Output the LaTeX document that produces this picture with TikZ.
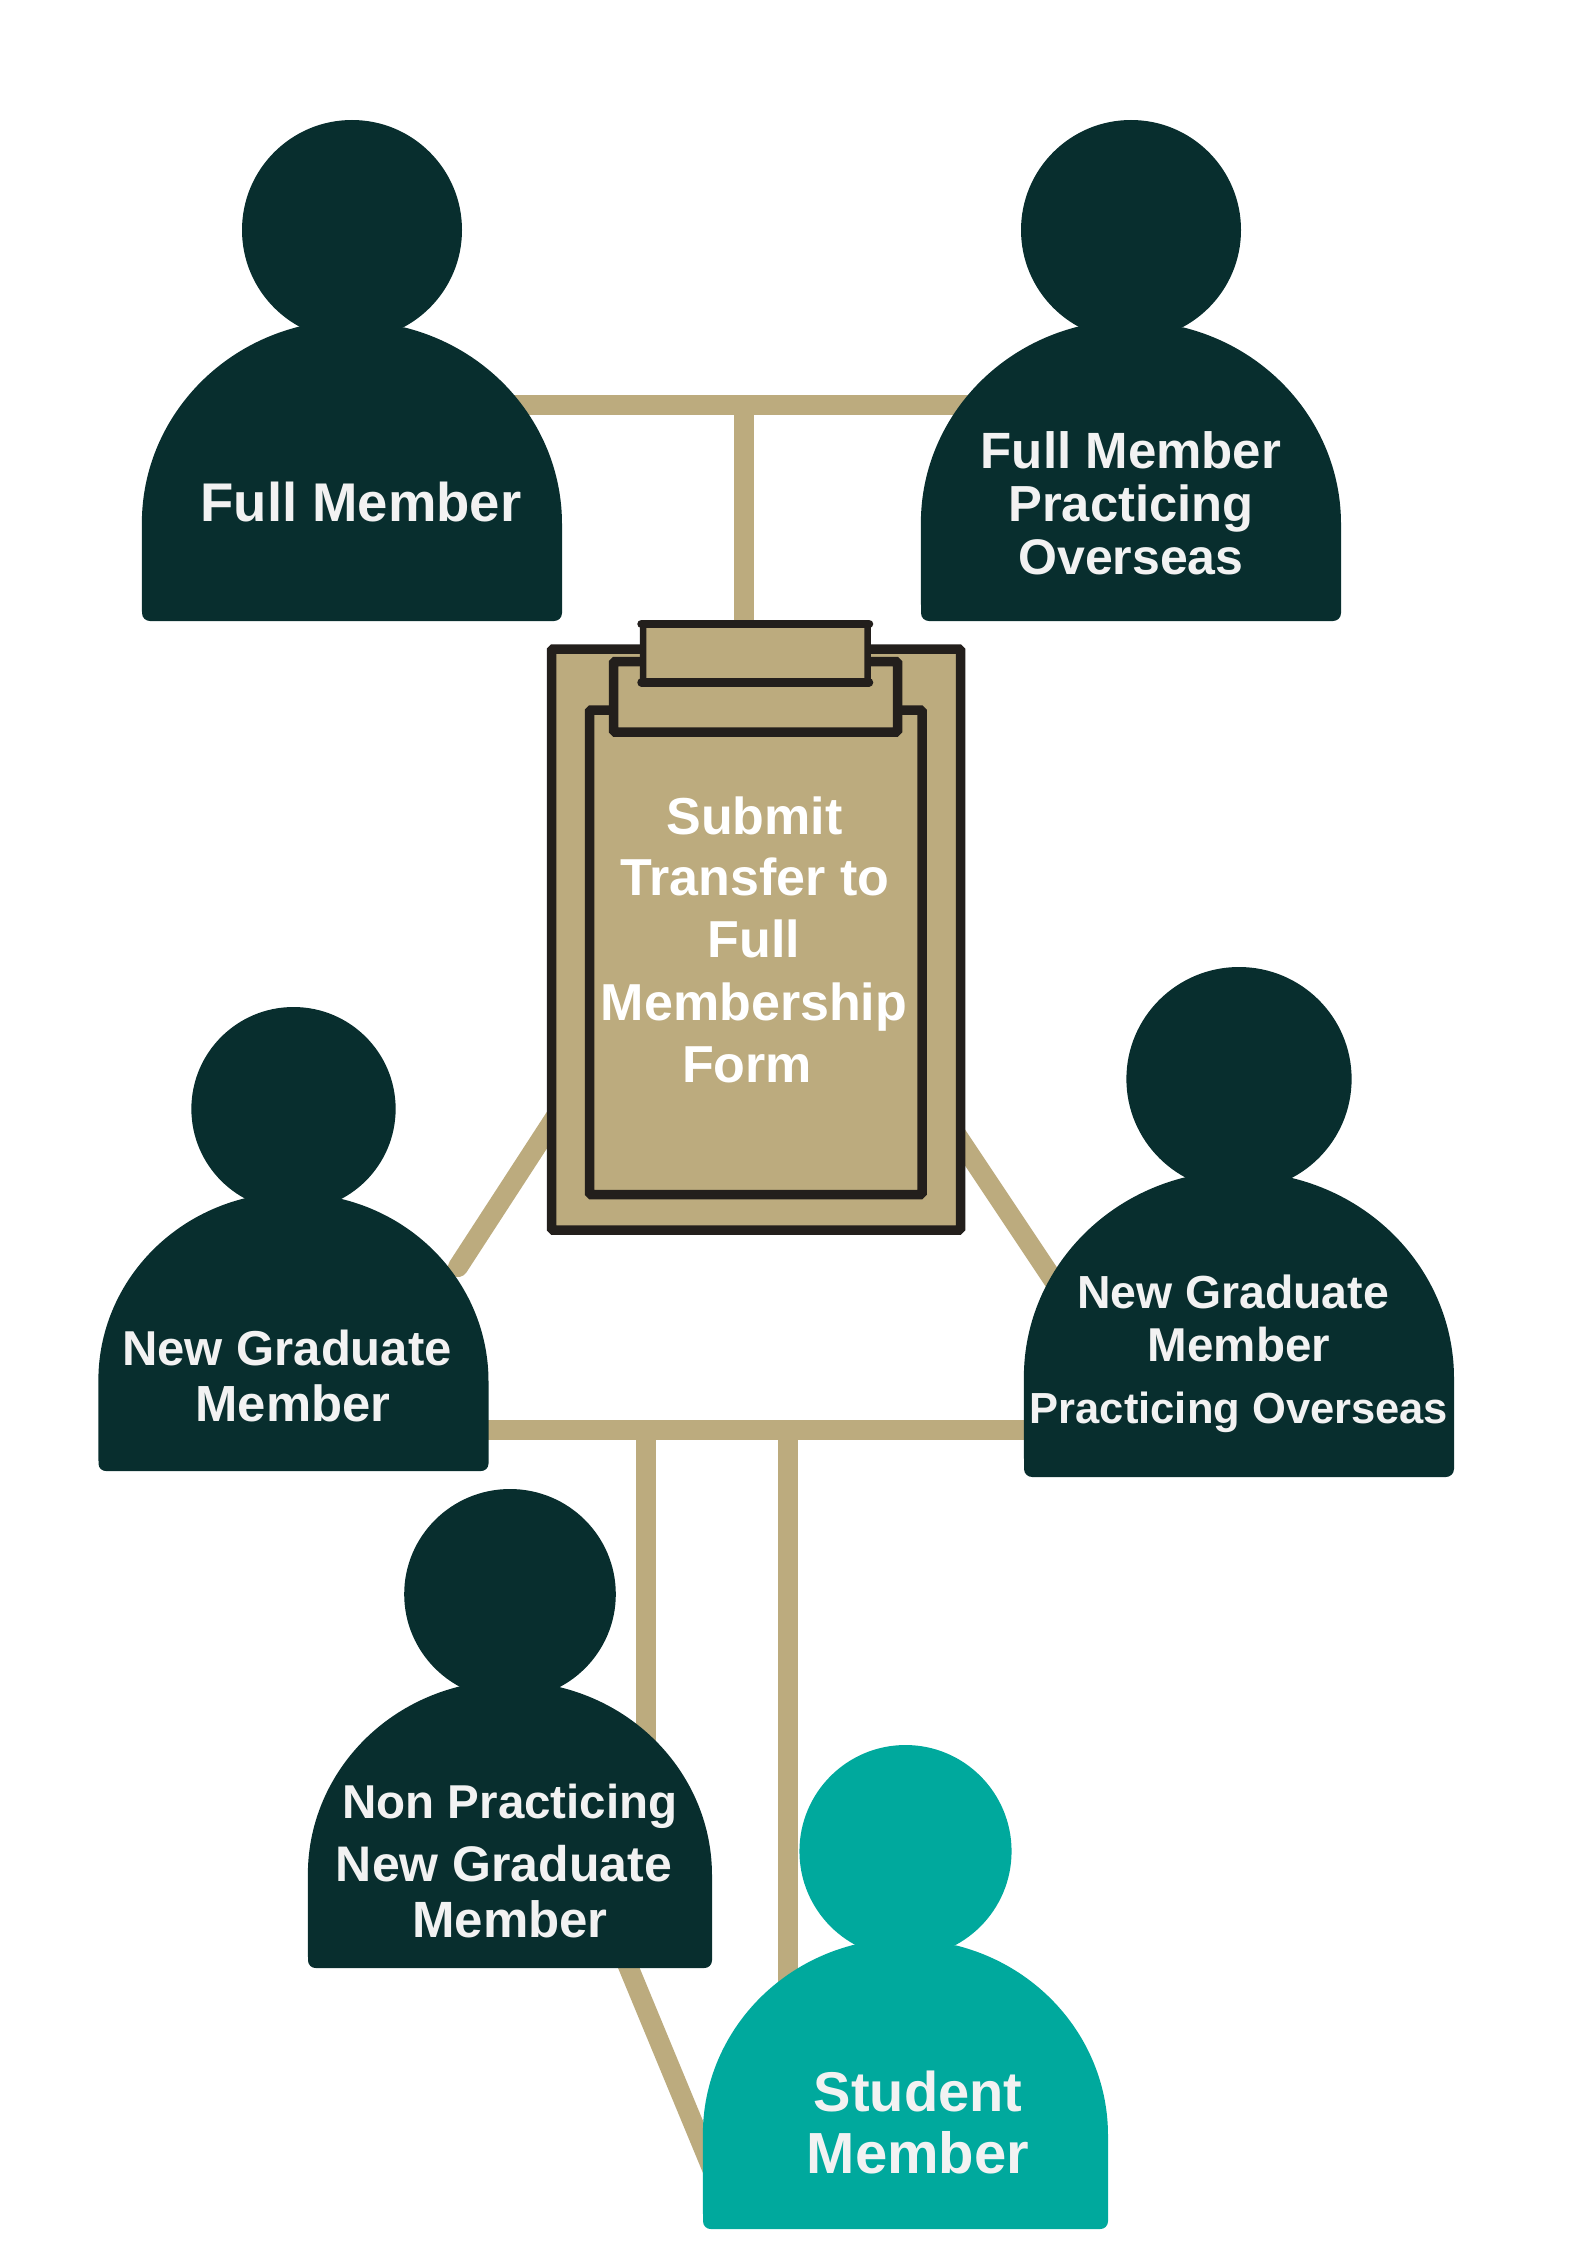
\documentclass[tikz,border=0pt]{standalone}
\usepackage{fontspec}
\setmainfont{Liberation Sans}
\pgfdeclarelayer{bg}
\pgfsetlayers{bg,main}
\definecolor{tan}{HTML}{BCAB7E}
\definecolor{darkteal}{HTML}{082E2E}
\definecolor{brightteal}{HTML}{00A99D}
\definecolor{outline}{HTML}{231F1C}
\definecolor{labelgrey}{HTML}{F2F2F2}
\tikzset{
  conn/.style={draw=tan,line width=20pt},
  personbox/.style={inner sep=0pt,outer sep=0pt},
  clipbox/.style={draw=outline,fill=tan,line width=9.5pt,rectangle,rounded corners=1.5pt,inner sep=0pt,outer sep=0pt},
  lab/.style={anchor=base,inner sep=0pt,font=\bfseries,text=labelgrey},
}
% name, centre x, top y, width, height, colour
\newcommand{\personshape}[6]{%
  \begin{scope}[shift={(#2,-#3)},xscale=#4/420,yscale=#5/501]
    \fill[#6] (0,-110) circle[radius=110pt];
    \fill[#6] (-52,-206.4) arc[start angle=104.3,end angle=180,x radius=210pt,y radius=203pt]
      -- (-210,-493) .. controls (-210,-498) and (-206,-501) .. (-202,-501)
      -- (202,-501) .. controls (206,-501) and (210,-498) .. (210,-493)
      -- (210,-404) arc[start angle=0,end angle=75.7,x radius=210pt,y radius=203pt] -- cycle;
  \end{scope}
  \node[personbox,minimum width=#4pt,minimum height=#5pt] (#1) at ({#2},{-#3-#5/2}) {};
}
% name, centre x, centre y, size, text
\newcommand{\lineof}[5]{%
  \node[lab] (#1) at ({#2},{-#3-0.345*#4}) {\fontsize{#4pt}{#4pt}\selectfont #5};
}
\begin{document}
\begin{tikzpicture}[x=1pt,y=1pt]
\useasboundingbox (0,0) rectangle (1587,-2245);
% people
\personshape{fm}{352}{120}{420}{501}{darkteal}
\personshape{fmo}{1131}{120}{420}{501}{darkteal}
\personshape{ngl}{293.5}{1007}{390}{464}{darkteal}
\personshape{ngo}{1239}{967}{430}{510}{darkteal}
\personshape{npm}{510}{1489}{404}{479}{darkteal}
\personshape{stu}{905.5}{1745}{405}{484}{brightteal}
% clipboard
\node[clipbox,minimum width=409pt,minimum height=581pt] (board) at (756,-939.5) {};
\node[clipbox,minimum width=332.5pt,minimum height=484.5pt] (paper) at (755.75,-952.25) {};
\node[clipbox,minimum width=284pt,minimum height=70.5pt] (clipbase) at (755.5,-696.75) {};
\node[clipbox,line width=6.5pt,minimum width=224.5pt,minimum height=58.5pt] (tab) at (755.25,-653.25) {};
\draw[outline,line width=8.5pt,line cap=round] (tab.north west) ++(-1.5,0) -- ++(227.5,0);
\draw[outline,line width=8.5pt,line cap=round] (tab.south west) ++(-1.5,0) -- ++(227.5,0);
% labels
\lineof{fm1}{361}{503}{54.5}{Full Member}
\lineof{fmo1}{1131}{451}{51}{Full Member}
\lineof{fmo2}{1131}{504}{50.7}{Practicing}
\lineof{fmo3}{1131}{557}{50}{Overseas}
\begin{scope}
\tikzset{lab/.append style={text=white}}
\lineof{sub1}{754.5}{817}{52}{Submit}
\lineof{sub2}{755}{878}{52}{Transfer to}
\lineof{sub3}{754}{940}{52}{Full}
\lineof{sub4}{754}{1003}{52}{Membership}
\lineof{sub5}{747}{1065}{52}{Form}
\end{scope}
\lineof{ngl1}{287}{1349}{49}{New Graduate}
\lineof{ngl2}{293}{1404}{50.8}{Member}
\lineof{ngo1}{1233}{1292}{46.4}{New Graduate}
\lineof{ngo2}{1239}{1345}{47.5}{Member}
\lineof{ngo3}{1239}{1408}{43.5}{Practicing Overseas}
\lineof{npm1}{510}{1802}{47.5}{Non Practicing}
\lineof{npm2}{504}{1864}{50}{New Graduate}
\lineof{npm3}{510}{1920}{51}{Member}
\lineof{stu1}{918}{2092}{56}{Student}
\lineof{stu2}{918}{2153}{58}{Member}
% connector anchor points
\coordinate (topJ) at (744,-405);
\coordinate (botJ) at (646,-1430);
\coordinate (botK) at (788,-1430);
\coordinate (leftA) at (560,-1110);
\coordinate (leftB) at (458,-1267);
\coordinate (rightA) at (950,-1125);
\coordinate (rightB) at (1060,-1290);
\coordinate (npA) at (604,-1908);
\coordinate (npB) at (725,-2200);
\begin{pgfonlayer}{bg}
  \draw[conn] (fm.center |- topJ) -- (fmo.center |- topJ);
  \draw[conn] (topJ) -- (topJ |- tab.north);
  \draw[conn,line cap=round] (leftA) -- (leftB);
  \draw[conn] (rightA) -- (rightB);
  \draw[conn] (ngl.center |- botJ) -- (ngo.center |- botK);
  \draw[conn] (botJ) -- (botJ |- npm.south);
  \draw[conn] (botK) -- (botK |- stu.center);
  \draw[conn] (npA) -- (npB);
\end{pgfonlayer}
\end{tikzpicture}
\end{document}
